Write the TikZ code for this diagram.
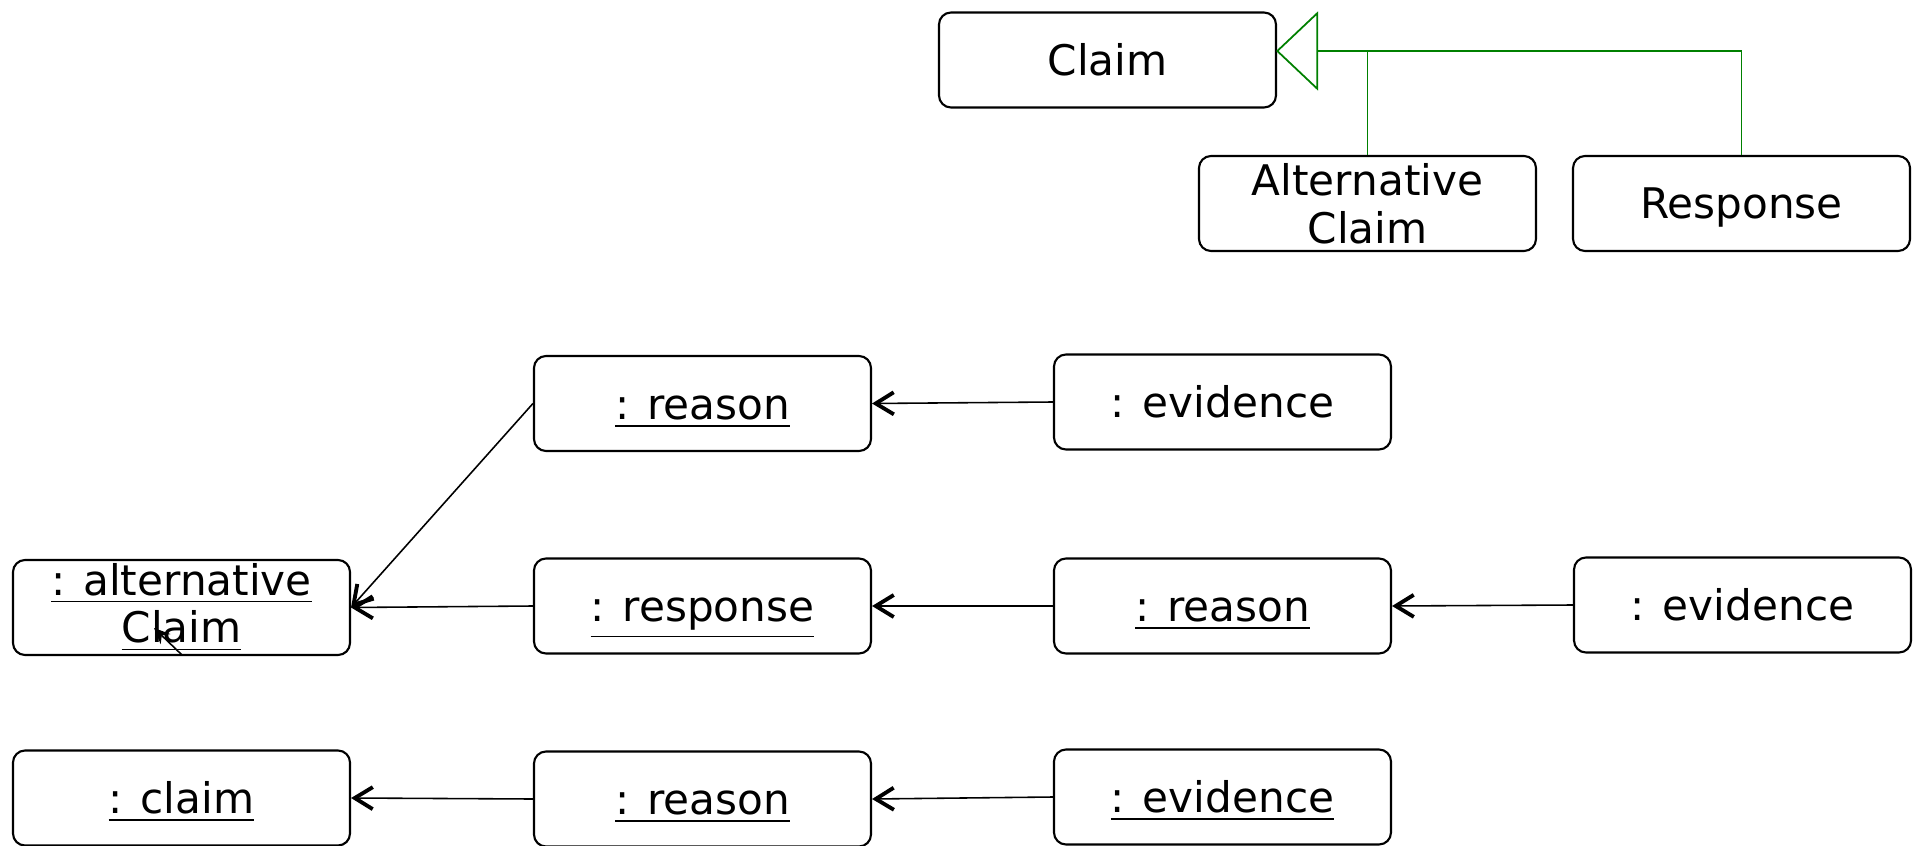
\documentclass[tikz,border=0pt]{standalone}
\usepackage{amsmath}
\usepackage{fontspec}
\setmainfont{DejaVu Sans}
\usepackage{xcolor}
\usepackage{tikz}
\usetikzlibrary{arrows.meta}
\definecolor{genline}{RGB}{0,128,0}
\newcommand{\objname}[1]{\smash{\underline{#1}}\vphantom{d}}

\begin{document}
\begin{tikzpicture}[
    obj/.style={draw,rounded corners=0.12cm,line width=0.6pt,minimum width=3.37cm,
      minimum height=0.95cm,align=center,inner sep=0pt,font=\fontsize{12}{13.6}\selectfont},
    link/.style={line width=0.45pt,-{Straight Barb[length=0.18cm,width=0.22cm,line width=1.1pt]}},
    gen/.style={genline,line width=0.5pt},
  ]
    \useasboundingbox (0,0) rectangle (19.2,-8.46);
    % class level
    \node[obj] (Claim) at (11.075,-0.60) {Claim};
    \node[obj] (AltClaim) at (13.675,-2.035) {Alternative\\Claim};
    \node[obj] (Response) at (17.415,-2.035) {\smash[b]{Response}};
    \coordinate (gentip) at (12.76,-0.51);
    \draw[gen,-{Triangle[open,length=0.42cm,width=0.79cm,line width=0.5pt]}] (AltClaim.north) |- (gentip);
    \draw[gen] (Response.north) |- (AltClaim.north |- gentip);
    % first chain
    \node[obj] (r1reason) at (7.025,-4.035) {\objname{: reason}};
    \node[obj] (r1evid) at (12.225,-4.02) {: evidence};
    % second chain
    \node[obj] (r2alt) at (1.815,-6.075) {\underline{: alternative}\\\underline{Claim}};
    \node[obj] (r2resp) at (7.025,-6.06) {\objname{: response}};
    \node[obj] (r2reason) at (12.225,-6.06) {\objname{: reason}};
    \node[obj] (r2evid) at (17.425,-6.05) {: evidence};
    % third chain
    \node[obj] (r3claim) at (1.815,-7.98) {\objname{: claim}};
    \node[obj] (r3reason) at (7.025,-7.99) {\objname{: reason}};
    \node[obj] (r3evid) at (12.225,-7.97) {\objname{: evidence}};
    \draw[link] (r1evid.west) -- (r1reason.east);
    \draw[link] (r1reason.west) -- (r2alt.east);
    \draw[link] (r2resp.west) -- (r2alt.east);
    \draw[link] (r2reason.west) -- (r2resp.east);
    \draw[link] (r2evid.west) -- (r2reason.east);
    \draw[link] (r3reason.west) -- (r3claim.east);
    \draw[link] (r3evid.west) -- (r3reason.east);
    % stray arrow
    \coordinate (straytail) at (1.82,-6.55);
    \coordinate (straytip) at (1.54,-6.28);
    \draw[line width=0.45pt,-{Stealth[length=0.16cm,width=0.14cm]}] (straytail) -- (straytip);
\end{tikzpicture}
\end{document}
